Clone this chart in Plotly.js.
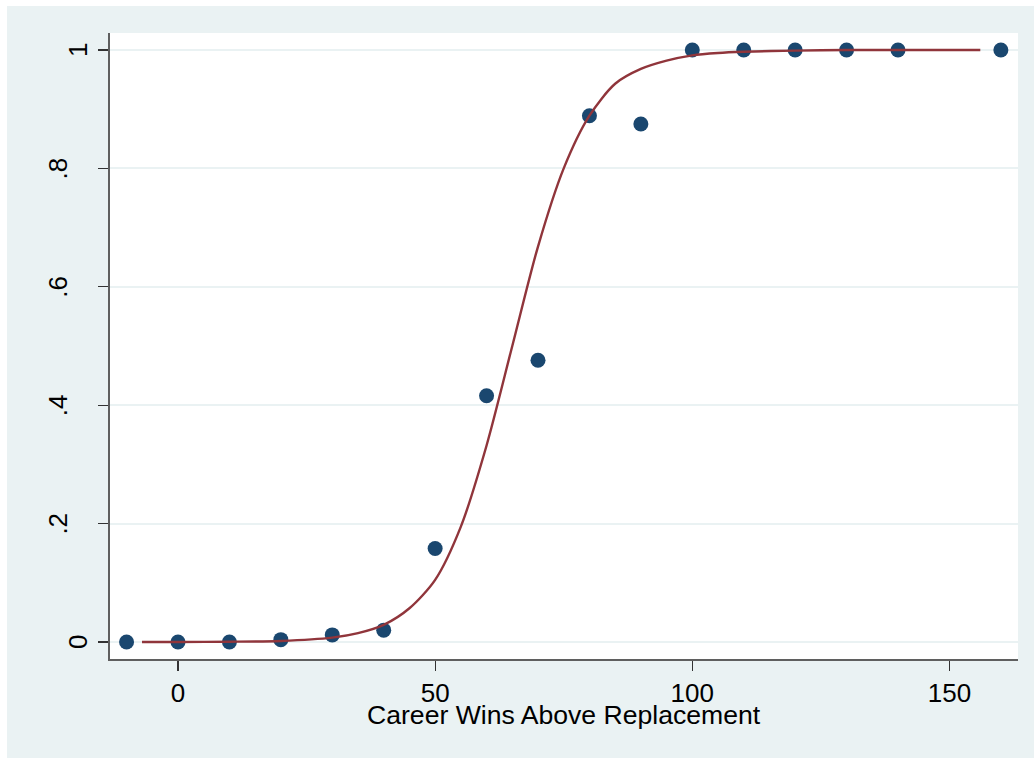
<!DOCTYPE html>
<html>
<head>
<meta charset="utf-8">
<script src="https://cdn.plot.ly/plotly-3.0.1.min.js"></script>
<style>
  html, body { margin: 0; padding: 0; background: #ffffff; }
  #chart { position: absolute; left: 7px; top: 6px; width: 1027px; height: 752px; }
</style>
</head>
<body>
<div id="chart"></div>
<script>
// Observed data points
const winsX = [-10, 0, 10, 20, 30, 40, 50, 60, 70, 80, 90, 100, 110, 120, 130, 140, 160];
const shareY = [0, 0, 0, 0.004, 0.012, 0.02, 0.158, 0.416, 0.476, 0.889, 0.875, 1, 1, 1, 1, 1, 1];

// Fitted curve, values
const fitX = [-7, 0, 10, 20, 30, 35, 40, 45, 50, 55, 60, 65, 70, 75, 80, 85, 90, 95, 100, 105, 110, 120, 130, 140, 156];
const fitY = [0.0001, 0.0001, 0.0005, 0.0018, 0.0074, 0.015, 0.029, 0.057, 0.105, 0.195, 0.332, 0.50, 0.668, 0.80, 0.889, 0.943, 0.968, 0.982, 0.991, 0.995, 0.997, 0.999, 1.0, 1.0, 1.0];

// Tick labels and titles
const xTickVals = [0, 50, 100, 150];
const xTickText = ['0', '50', '100', '150'];
const yTickVals = [0, 0.2, 0.4, 0.6, 0.8, 1];
const yTickText = ['0', '.2', '.4', '.6', '.8', '1'];
const xTitle = 'Career Wins Above Replacement';

const FONT = 'Liberation Sans, Arial, sans-serif';

const traces = [
  {
    type: 'scatter', mode: 'markers', x: winsX, y: shareY,
    marker: { size: 15, color: '#1a476f', line: { width: 0 } },
    showlegend: false, cliponaxis: false
  },
  {
    type: 'scatter', mode: 'lines', x: fitX, y: fitY,
    line: { color: '#90353b', width: 2.4, shape: 'spline', smoothing: 0.8 },
    showlegend: false
  }
];

const annotations = yTickVals.map((v, i) => ({
  xref: 'paper', yref: 'y', x: 0, y: v,
  text: yTickText[i], showarrow: false, textangle: -90,
  xanchor: 'center', yanchor: 'middle',
  xshift: yTickText[i].length > 1 ? -52 : -32,
  font: { family: FONT, size: 26, color: '#000000' }
}));
annotations.push({
  xref: 'paper', yref: 'paper', x: 0.5, y: 0,
  text: xTitle, showarrow: false,
  xanchor: 'center', yanchor: 'middle', yshift: -56,
  font: { family: FONT, size: 26.6, color: '#000000' }
});

const layout = {
  width: 1027, height: 752,
  margin: { l: 103, r: 16, t: 27, b: 99 },
  paper_bgcolor: '#eaf2f3',
  plot_bgcolor: '#ffffff',
  font: { family: FONT, size: 26, color: '#000000' },
  showlegend: false,
  xaxis: {
    range: [-13.22, 163.33],
    tickvals: xTickVals, ticktext: xTickText,
    ticks: 'outside', ticklen: 10, tickwidth: 1.2, tickcolor: '#333333',
    showline: true, linecolor: '#5f5f5f', linewidth: 2,
    showgrid: false, zeroline: false,
    tickfont: { family: FONT, size: 26, color: '#000000' }
  },
  yaxis: {
    range: [-0.0287, 1.0287],
    tickvals: yTickVals,
    ticks: 'outside', ticklen: 10, tickwidth: 1.2, tickcolor: '#333333',
    showticklabels: false,
    showline: true, linecolor: '#5f5f5f', linewidth: 2,
    showgrid: true, gridcolor: '#eaf2f3', gridwidth: 2,
    zeroline: false
  },
  annotations: annotations
};

Plotly.newPlot('chart', traces, layout, { displayModeBar: false, staticPlot: true });
</script>
</body>
</html>
